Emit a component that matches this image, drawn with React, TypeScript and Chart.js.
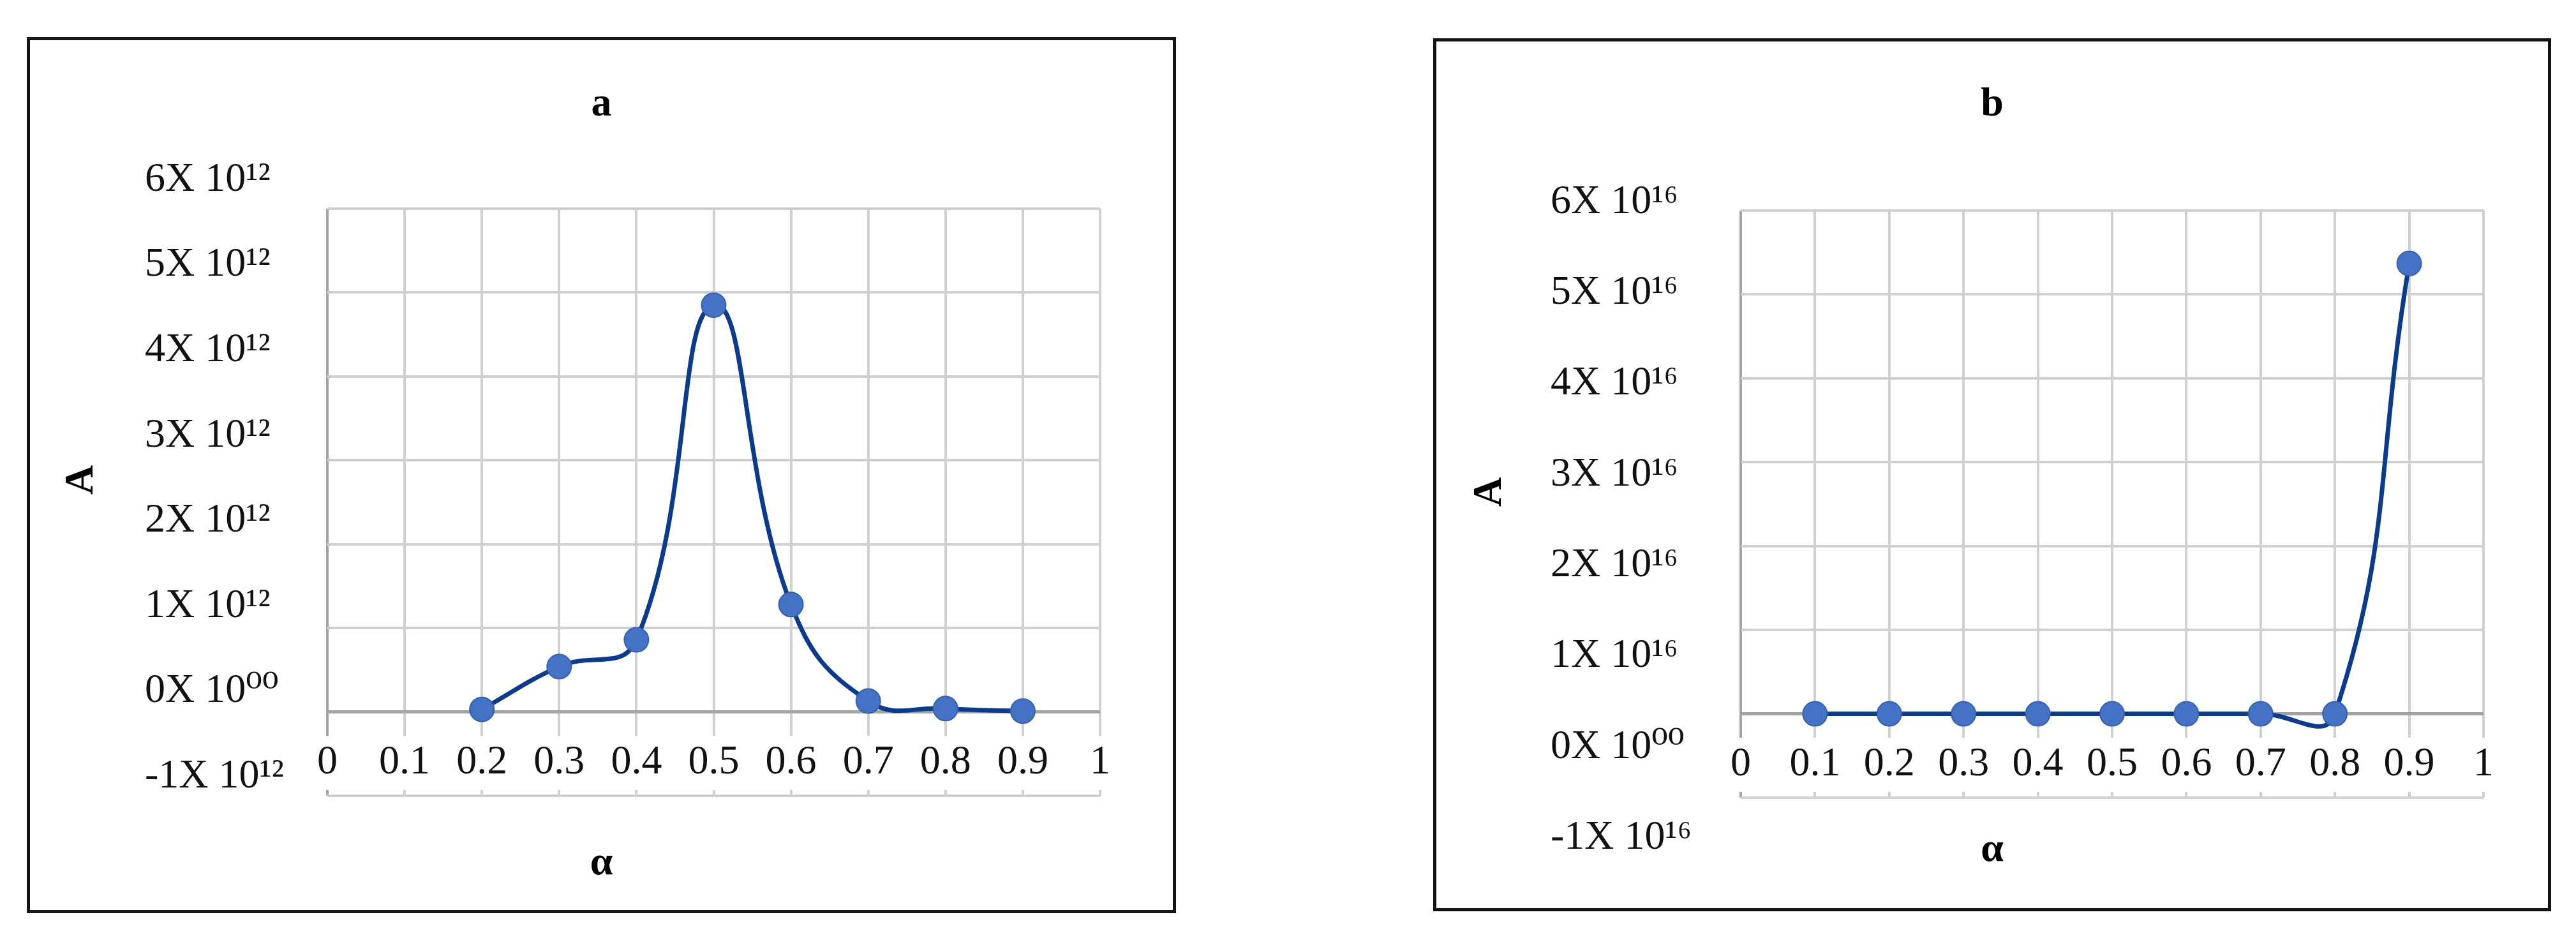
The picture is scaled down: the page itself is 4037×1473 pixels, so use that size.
import React, { useEffect, useRef } from 'react';
import { Chart, registerables } from 'chart.js';

Chart.register(...registerables);

// ---------- data ----------
const ALPHA_A = [0.2, 0.3, 0.4, 0.5, 0.6, 0.7, 0.8, 0.9];
const A_VALUES_A = [0.03e12, 0.54e12, 0.86e12, 4.85e12, 1.28e12, 0.13e12, 0.04e12, 0.01e12];

const ALPHA_B = [0.1, 0.2, 0.3, 0.4, 0.5, 0.6, 0.7, 0.8, 0.9];
const A_VALUES_B = [0, 0, 0, 0, 0, 0, 0, 0, 5.37e16];

const X_TICK_LABELS = ['0', '0.1', '0.2', '0.3', '0.4', '0.5', '0.6', '0.7', '0.8', '0.9', '1'];
const Y_TICK_STEPS = [-1, 0, 1, 2, 3, 4, 5, 6];
const Y_TICK_LABELS_A = ['-1X 10¹²', '0X 10⁰⁰', '1X 10¹²', '2X 10¹²', '3X 10¹²', '4X 10¹²', '5X 10¹²', '6X 10¹²'];
const Y_TICK_LABELS_B = ['-1X 10¹⁶', '0X 10⁰⁰', '1X 10¹⁶', '2X 10¹⁶', '3X 10¹⁶', '4X 10¹⁶', '5X 10¹⁶', '6X 10¹⁶'];

const TITLE_A = 'a';
const TITLE_B = 'b';
const X_TITLE = 'α';
const Y_TITLE = 'A';

// ---------- styles ----------
const SERIF = '"Liberation Serif", "DejaVu Serif", serif';
const LINE_COLOR = '#0c3a8f';
const MARKER_FILL = '#4472c4';
const MARKER_EDGE = '#3560b0';
const GRID = '#d0d0d0';
const GRID_DARK = '#a3a3a3';

type Spec = {
  xs: number[];
  ys: number[];
  unit: number;
  yLabels: string[];
  title: string;
  labelMin: number;
  labelMax: number;
  leftOuter: number;
  leftLabels: number;
  rightW: number;
  titlePad: { top: number; bottom: number };
  subPad: { top: number; bottom: number };
  yTitlePad: number;
  yTitleShift: number;
};

function buildConfig(spec: Spec): any {
  const u = spec.unit;
  const tickFont = { family: SERIF, size: 64 };
  const boldFont = { family: SERIF, size: 64, weight: 'bold' as const };
  return {
    type: 'line',
    data: {
      datasets: [
        {
          data: spec.xs.map((x, i) => ({ x, y: spec.ys[i] })),
          borderColor: LINE_COLOR,
          borderWidth: 7,
          tension: 0.45,
          fill: false,
          pointStyle: 'circle',
          pointRadius: 19,
          pointBackgroundColor: MARKER_FILL,
          pointBorderColor: MARKER_EDGE,
          pointBorderWidth: 2,
          xAxisID: 'x',
          yAxisID: 'y',
        },
      ],
    },
    plugins: [
      {
        id: 'yTitleShift',
        afterLayout(chart: any) {
          const s = chart.scales.y;
          s.top += spec.yTitleShift;
          s.bottom += spec.yTitleShift;
        },
      },
    ],
    options: {
      animation: false,
      responsive: false,
      devicePixelRatio: 1,
      layout: { padding: 0 },
      plugins: {
        legend: { display: false },
        tooltip: { enabled: false },
        title: {
          display: true,
          text: spec.title,
          position: 'top',
          color: '#000',
          font: boldFont,
          padding: spec.titlePad,
        },
        subtitle: {
          display: true,
          text: X_TITLE,
          position: 'bottom',
          color: '#000',
          font: boldFont,
          padding: spec.subPad,
        },
      },
      scales: {
        x: {
          type: 'linear',
          position: { y: 0 },
          min: 0,
          max: 1,
          border: { display: false },
          grid: {
            drawTicks: false,
            lineWidth: 4,
            color: (ctx: any) => (ctx.tick && Math.abs(ctx.tick.value) < 1e-9 ? GRID_DARK : GRID),
          },
          ticks: {
            stepSize: 0.1,
            autoSkip: false,
            maxRotation: 0,
            padding: 41.6,
            color: '#111',
            font: tickFont,
            showLabelBackdrop: true,
            backdropColor: '#ffffff',
            backdropPadding: 4,
            callback: (_v: any, i: number) => X_TICK_LABELS[i],
          },
        },
        y: {
          type: 'linear',
          position: 'left',
          weight: 10,
          min: -1 * u,
          max: 6 * u,
          border: { display: false },
          grid: {
            drawTicks: false,
            lineWidth: (ctx: any) => (ctx.tick && ctx.tick.value === 0 ? 5 : 4),
            color: (ctx: any) => (ctx.tick && ctx.tick.value === 0 ? GRID_DARK : GRID),
          },
          ticks: { display: false, stepSize: u },
          title: {
            display: true,
            text: Y_TITLE,
            color: '#000',
            font: boldFont,
            padding: { top: spec.yTitlePad, bottom: 0 },
          },
          afterFit: (s: any) => {
            s.width = spec.leftOuter;
          },
        },
        yl: {
          type: 'linear',
          position: 'left',
          weight: 0,
          min: spec.labelMin * u,
          max: spec.labelMax * u,
          border: { display: false },
          grid: { display: false },
          afterBuildTicks: (s: any) => {
            s.ticks = Y_TICK_STEPS.map((v) => ({ value: v * u }));
          },
          ticks: {
            autoSkip: false,
            crossAlign: 'far',
            padding: 0,
            color: '#111',
            font: tickFont,
            callback: (_v: any, i: number) => spec.yLabels[i],
          },
          afterFit: (s: any) => {
            s.width = spec.leftLabels;
          },
        },
        yr: {
          type: 'linear',
          position: 'right',
          min: 0,
          max: 1,
          border: { display: false },
          grid: { display: false },
          ticks: { display: false },
          afterFit: (s: any) => {
            s.width = spec.rightW;
          },
        },
      },
    },
  };
}

function Panel(props: {
  frame: { left: number; top: number; width: number; height: number };
  spec: Spec;
}) {
  const ref = useRef<HTMLCanvasElement | null>(null);
  const border = 5;
  const w = props.frame.width - 2 * border;
  const h = props.frame.height - 2 * border;
  useEffect(() => {
    if (!ref.current) return;
    const chart = new Chart(ref.current, buildConfig(props.spec));
    return () => chart.destroy();
  }, []);
  return (
    <div
      style={{
        position: 'absolute',
        left: props.frame.left,
        top: props.frame.top,
        width: props.frame.width,
        height: props.frame.height,
        border: `${border}px solid #141414`,
        boxSizing: 'border-box',
        background: '#fff',
      }}
    >
      <canvas ref={ref} width={w} height={h} style={{ display: 'block', width: w, height: h }} />
    </div>
  );
}

const SPEC_A: Spec = {
  xs: ALPHA_A,
  ys: A_VALUES_A,
  unit: 1e12,
  yLabels: Y_TICK_LABELS_A,
  title: TITLE_A,
  labelMin: -1.2247,
  labelMax: 5.663,
  leftOuter: 180,
  leftLabels: 286,
  rightW: 114,
  titlePad: { top: 62.6, bottom: 124.6 },
  subPad: { top: 67.6, bottom: 34.6 },
  yTitlePad: 42.6,
  yTitleShift: -35,
};

const SPEC_B: Spec = {
  xs: ALPHA_B,
  ys: A_VALUES_B,
  unit: 1e16,
  yLabels: Y_TICK_LABELS_B,
  title: TITLE_B,
  labelMin: -0.5566,
  labelMax: 5.9086,
  leftOuter: 179,
  leftLabels: 298,
  rightW: 101,
  titlePad: { top: 60.6, bottom: 127.6 },
  subPad: { top: 43.6, bottom: 52.6 },
  yTitlePad: 45.6,
  yTitleShift: -19,
};

export default function App() {
  return (
    <div
      style={{
        position: 'fixed',
        left: 0,
        top: 0,
        width: 4037,
        height: 1473,
        background: '#ffffff',
        overflow: 'hidden',
      }}
    >
      <Panel frame={{ left: 42, top: 58, width: 1801, height: 1373 }} spec={SPEC_A} />
      <Panel frame={{ left: 2246, top: 60, width: 1752, height: 1368 }} spec={SPEC_B} />
    </div>
  );
}
